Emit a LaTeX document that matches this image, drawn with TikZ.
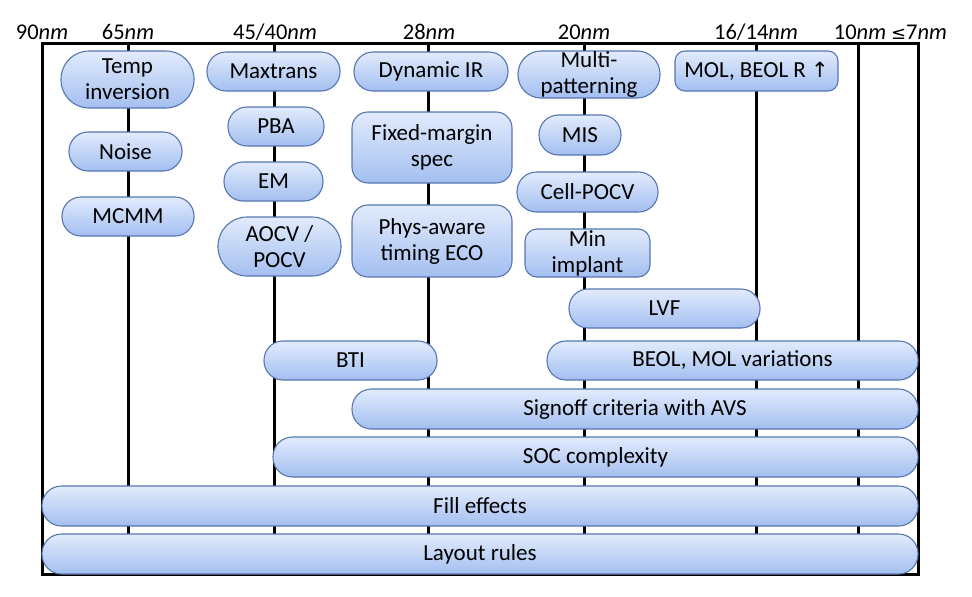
\documentclass[tikz,border=0pt]{standalone}
\usepackage{fontspec}
\setmainfont{Carlito}
\newfontfamily\symfont{DejaVu Sans}
\definecolor{boxtop}{HTML}{E2EBFC}
\definecolor{boxbot}{HTML}{A3BFF0}
\definecolor{boxedge}{HTML}{5676B0}
\tikzset{
  box/.style={draw=boxedge, line width=1.1pt, top color=boxtop, bottom color=boxbot,
    align=center, inner sep=0pt, font=\fontsize{23}{26}\selectfont},
  node/.style={font=\fontsize{22.5}{27}\selectfont, anchor=base}
}
\begin{document}
\begin{tikzpicture}[x=1pt,y=-1pt]
  \useasboundingbox (0,0) rectangle (972,597);
  % frame and node lines
  \foreach \x/\nm in {128/n65,274/n45,428/n28,584/n20,756/n16,858/n10}{
    \coordinate (\nm top) at (\x,43);
    \coordinate (\nm bot) at (\x,574);
    \draw[line width=3pt] (\nm top) -- (\nm bot);
  }
  \draw[line width=3pt] (42,43) rectangle (918,574);
  % node labels
  \node[node] (l90) at (42,39) {90\textit{nm}};
  \node[node] (l65) at (128,39) {65\textit{nm}};
  \node[node] (l45) at (275,39) {45/40\textit{nm}};
  \node[node] (l28) at (429,39) {28\textit{nm}};
  \node[node] (l20) at (584,39) {20\textit{nm}};
  \node[node] (l16) at (756,39) {16/14\textit{nm}};
  \node[node] (l10) at (860,39) {10\textit{nm}};
  \node[node] (l7) at (919,39) {{\symfont\fontsize{18}{25}\selectfont ≤}7\textit{nm}};
  % 65nm column
  \node[box, rounded corners=28pt, minimum width=133, minimum height=57] (temp) at (127.5,79.5) {Temp\\inversion};
  \node[box, rounded corners=19pt, minimum width=113, minimum height=39] (noise) at (125.5,151.5) {Noise};
  \node[box, rounded corners=19pt, minimum width=132, minimum height=39] (mcmm) at (128,216.5) {MCMM};
  % 45/40nm column
  \node[box, rounded corners=19pt, minimum width=133, minimum height=39] (maxtrans) at (273.5,71.5) {Maxtrans};
  \node[box, rounded corners=19pt, minimum width=96, minimum height=39] (pba) at (276,126.5) {PBA};
  \node[box, rounded corners=19pt, minimum width=99, minimum height=39] (em) at (273.5,181.5) {EM};
  \node[box, rounded corners=29pt, minimum width=123, minimum height=59] (aocv) at (279.5,246.5) {AOCV /\\POCV};
  % 28nm column
  \node[box, rounded corners=19pt, minimum width=154, minimum height=39] (dynir) at (431,71.5) {Dynamic IR};
  \node[box, rounded corners=16pt, minimum width=160, minimum height=71] (fixed) at (432,147.5) {Fixed-margin\\spec};
  \node[box, rounded corners=16pt, minimum width=160, minimum height=72] (phys) at (432,241) {Phys-aware\\timing ECO};
  % 20nm column
  \node[box, rounded corners=23pt, minimum width=142, minimum height=47] (multi) at (589,74.5) {Multi-\\patterning};
  \node[box, rounded corners=19.5pt, minimum width=82, minimum height=40] (mis) at (580,135) {MIS};
  \node[box, rounded corners=19.5pt, minimum width=141, minimum height=40] (cpocv) at (587.5,192) {Cell-POCV};
  \node[box, rounded corners=12pt, minimum width=125, minimum height=48] (minimp) at (587.5,253) {Min\\implant};
  % 16/14nm column
  \node[box, rounded corners=10pt, minimum width=163, minimum height=40] (molr) at (756.5,71) {MOL, BEOL R~{\symfont\fontsize{21}{26}\selectfont ↑}};
  % spanning bars
  \node[box, rounded corners=19pt, minimum width=191, minimum height=39] (lvf) at (664.5,308.5) {LVF};
  \node[box, rounded corners=19pt, minimum width=173, minimum height=39] (bti) at (350.5,360.5) {BTI};
  \node[box, rounded corners=19pt, minimum width=371, minimum height=39] (beol) at (732.5,360.5) {BEOL, MOL variations};
  \node[box, rounded corners=19.5pt, minimum width=566, minimum height=40] (signoff) at (635,409) {Signoff criteria with AVS};
  \node[box, rounded corners=19.5pt, minimum width=645, minimum height=40] (soc) at (595.5,457) {SOC complexity};
  \node[box, rounded corners=19.5pt, minimum width=876, minimum height=40] (fill) at (480,506) {Fill effects};
  \node[box, rounded corners=19.5pt, minimum width=876, minimum height=40] (layout) at (480,554) {Layout rules};
\end{tikzpicture}
\end{document}
